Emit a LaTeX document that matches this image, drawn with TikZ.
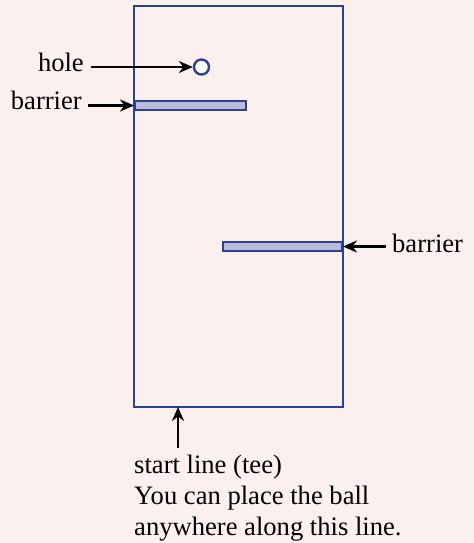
\documentclass[tikz,border=0pt]{standalone}
\usepackage{fontspec}
\setmainfont{Liberation Serif}
\usetikzlibrary{arrows.meta}
\usetikzlibrary{positioning, calc}
\definecolor{gfback}{HTML}{FCF0EE}
\definecolor{gfblue}{HTML}{2B4194}
\definecolor{gffill}{HTML}{B8BCDA}

\begin{document}
\begin{tikzpicture}[
    x=0.5pt, y=-0.5pt,
    line width=1.2pt,
    course/.style={draw=gfblue, minimum width=104.5pt, minimum height=200.5pt,
                   inner sep=0pt},
    bar/.style={draw=gfblue, fill=gffill, minimum height=4.5pt, inner sep=0pt},
    lbl/.style={text=black, font=\fontsize{13.3}{15.5}\selectfont, inner sep=1pt},
    pointer/.style={black, line width=1.2pt, -{Stealth[length=7pt, width=6pt]}},
  ]
  % ---- background / bounding box ----
  \fill[gfback] (0,0) rectangle (474,543);
  \useasboundingbox (0,0) rectangle (474,543);

  % ---- course ----
  \node[course] (frame) at (238.5,206.5) {};
  \node[circle, draw=gfblue, fill=white, minimum size=7.5pt, inner sep=0pt]
    (hole) at (201.5,67) {};
  \node[bar, minimum width=55.5pt, anchor=west] (barrierA) at (134,105.5) {};
  \node[bar, minimum width=59.5pt, anchor=east] (barrierB) at (343,246.5) {};
  \coordinate (tee) at (178,407);

  % ---- labels ----
  \node[lbl, anchor=east] (holelbl) at (87,62) {hole};
  \node[lbl, anchor=east] (barlblA) at (85,100) {barrier};
  \node[lbl, anchor=west] (barlblB) at (389,243) {barrier};
  \node[lbl, anchor=north west, align=left] (startlbl) at (131,452)
    {start line (tee)\\You can place the ball\\anywhere along this line.};

  % ---- pointers ----
  \draw[pointer] (holelbl.east |- hole) ++(4,0) -- (hole.west);
  \draw[pointer] (barlblA.east |- barrierA) ++(3,0) -- (barrierA.west);
  \draw[pointer] (barlblB.west |- barrierB) ++(-3,0) -- (barrierB.east);
  \draw[pointer] (tee |- startlbl.north) ++(0,-4) -- (tee);
\end{tikzpicture}
\end{document}
